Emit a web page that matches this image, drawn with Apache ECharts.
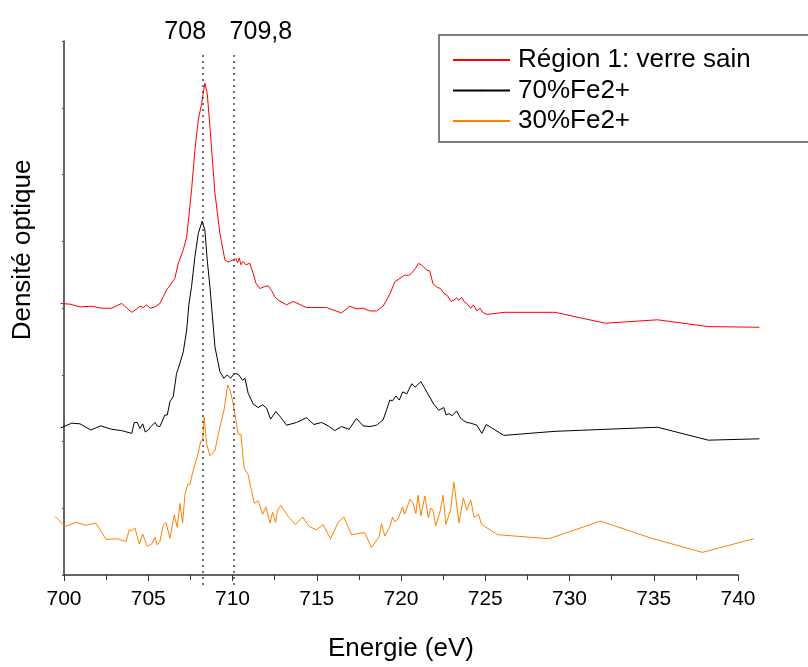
<!DOCTYPE html>
<html>
<head>
<meta charset="utf-8">
<script src="https://cdn.jsdelivr.net/npm/echarts@6/dist/echarts.min.js"></script>
<style>
html,body{margin:0;padding:0;background:#fff;}
#c{width:808px;height:667px;}
</style>
</head>
<body>
<div id="c"></div>
<script>
// Energy (eV) / optical density (arbitrary, stacked offset)
var redE = [699.80,700.36,700.95,701.64,702.24,702.83,703.42,704.02,704.21,704.51,704.70,704.90,705.10,705.40,705.69,705.89,706.09,706.39,706.58,706.78,707.08,707.28,707.47,707.57,707.77,707.97,708.17,708.36,708.50,708.66,708.96,709.25,709.55,709.74,710.04,710.20,710.30,710.40,710.50,710.63,710.79,711.03,711.23,711.39,711.62,711.92,712.12,712.32,712.51,712.71,713.21,713.60,714.39,715.58,716.47,716.96,717.36,717.75,718.15,718.55,718.94,719.34,719.64,719.94,720.24,720.44,720.64,720.84,721.04,721.24,721.54,721.70,721.90,722.14,722.34,722.54,722.74,722.98,723.14,723.30,723.44,723.60,723.74,723.94,724.14,724.30,724.50,724.70,724.84,725.10,726.14,729.14,732.13,735.23,738.23,741.27];
var redV = [4.14,4.13,4.09,4.10,4.07,4.07,4.14,4.01,4.04,4.10,4.08,4.12,4.07,4.09,4.14,4.24,4.34,4.44,4.51,4.73,4.93,5.12,5.56,5.81,6.40,6.84,7.08,7.38,7.23,6.74,5.76,5.17,4.78,4.75,4.78,4.80,4.74,4.81,4.71,4.76,4.71,4.73,4.58,4.44,4.36,4.39,4.40,4.33,4.24,4.19,4.12,4.17,4.08,4.08,4.00,4.10,4.06,4.07,4.03,4.03,4.10,4.28,4.46,4.51,4.56,4.55,4.59,4.65,4.73,4.70,4.63,4.62,4.43,4.38,4.36,4.29,4.26,4.17,4.19,4.22,4.19,4.23,4.17,4.13,4.07,4.12,4.03,4.07,4.01,3.98,4.01,4.01,3.85,3.90,3.80,3.79];

var blackE = [699.80,700.46,700.95,701.58,702.19,702.83,703.42,704.02,704.17,704.35,704.51,704.67,704.82,705.00,705.16,705.40,705.53,705.69,705.99,706.13,706.29,706.48,706.68,706.88,707.08,707.28,707.41,707.57,707.77,707.97,708.20,708.36,708.50,708.66,708.76,708.96,709.25,709.49,709.69,709.89,710.10,710.34,710.60,710.74,710.93,711.23,711.52,711.79,712.02,712.26,712.57,712.85,713.21,713.80,714.39,714.83,715.28,715.68,716.07,716.47,716.92,717.36,717.75,718.15,718.55,718.94,719.04,719.34,719.50,719.70,719.90,720.10,720.34,720.64,720.84,721.18,721.44,721.94,722.24,722.54,722.68,722.84,723.04,723.30,723.54,723.70,723.90,724.14,724.50,724.80,725.06,726.10,729.14,735.23,738.23,741.27];
var blackV = [2.31,2.38,2.37,2.28,2.34,2.29,2.27,2.23,2.39,2.39,2.30,2.37,2.25,2.28,2.33,2.39,2.34,2.33,2.50,2.50,2.70,2.77,3.11,3.26,3.43,3.75,4.12,4.39,4.83,5.17,5.35,5.22,4.78,4.39,4.09,3.50,3.14,3.04,3.09,3.04,3.11,3.10,3.01,3.04,2.82,2.66,2.61,2.65,2.60,2.44,2.55,2.47,2.35,2.39,2.46,2.36,2.39,2.34,2.27,2.33,2.29,2.45,2.34,2.33,2.35,2.43,2.50,2.72,2.71,2.78,2.72,2.84,2.81,2.96,2.91,2.99,2.88,2.66,2.57,2.61,2.50,2.52,2.49,2.56,2.45,2.42,2.39,2.38,2.35,2.23,2.36,2.20,2.26,2.32,2.13,2.15];

var orangeE = [699.47,700.06,700.71,701.30,701.90,702.49,703.13,703.68,703.87,704.03,704.21,704.47,704.67,704.94,705.20,705.40,705.53,705.69,705.89,706.05,706.29,706.54,706.72,706.88,707.04,707.18,707.34,707.47,707.67,707.97,708.11,708.23,708.32,708.46,708.66,708.96,709.15,709.51,709.71,709.85,710.04,710.34,710.50,710.69,710.93,711.29,711.52,711.79,711.98,712.22,712.38,712.56,712.67,712.87,713.30,713.74,714.16,714.55,714.99,715.38,715.82,716.27,716.61,717.06,717.85,718.25,718.70,718.84,719.04,719.34,719.50,719.63,719.83,720.09,720.22,720.53,720.72,720.88,721.01,721.18,721.42,721.62,721.76,721.90,722.06,722.30,722.50,722.66,722.94,723.14,723.44,723.70,723.90,724.14,724.34,724.60,724.78,725.74,728.78,731.84,734.83,737.89,740.93];
var orangeV = [1.01,0.86,0.92,0.88,0.91,0.67,0.68,0.64,0.81,0.80,0.84,0.60,0.75,0.57,0.60,0.70,0.59,0.64,0.88,0.92,0.69,1.03,0.85,1.20,0.91,1.33,1.48,1.48,1.69,1.94,2.11,2.12,2.47,2.08,1.90,1.98,2.21,2.59,2.94,2.87,2.67,2.22,2.21,1.72,1.62,1.20,1.24,1.04,1.15,0.91,1.07,0.92,1.10,1.17,1.01,0.89,1.00,0.86,0.81,0.89,0.68,0.92,1.00,0.74,0.77,0.55,0.71,0.90,0.72,0.86,1.00,0.93,0.97,1.15,1.04,1.26,1.20,1.05,1.32,1.02,1.31,0.99,1.13,1.10,0.87,1.06,1.32,0.89,1.10,1.51,0.91,1.28,1.10,1.25,0.99,1.04,0.89,0.74,0.68,0.94,0.69,0.48,0.68];

var seriesNames = ['Région 1: verre sain', '70%Fe2+', '30%Fe2+'];
var seriesColors = ['#ff0000', '#000000', '#ff8000'];
var xTicks = [700, 705, 710, 715, 720, 725, 730, 735, 740];
var markEnergies = [708.26, 710.08];
var markLabels = ['708', '709,8'];
var markTop = 7.84;

function pairs(e, v) { return e.map(function (x, i) { return [x, v[i]]; }); }

var FONT = 'Arial, "Liberation Sans", sans-serif';

// axis grid: 700..740 between these edges; data grid: 699..742, same scale
var AX_L = 64, AX_R = 70, TOP = 41, BOTTOM = 82;
var W = 808;
var pxPerEv = (W - AX_L - AX_R) / 40;
var DATA_MIN = 699, DATA_MAX = 742;
var dataLeft = AX_L - (700 - DATA_MIN) * pxPerEv;
var dataRight = AX_R - (DATA_MAX - 740) * pxPerEv;

var chart = echarts.init(document.getElementById('c'), null, {renderer: 'canvas'});

var marks = markEnergies.map(function (e, i) {
  return [
    {coord: [e, 0], label: {formatter: markLabels[i], offset: i === 0 ? [-18, 1] : [27, 1]}},
    {coord: [e, markTop]}
  ];
});

var series = [pairs(redE, redV), pairs(blackE, blackV), pairs(orangeE, orangeV)].map(function (d, i) {
  var s = {
    name: seriesNames[i],
    type: 'line',
    xAxisIndex: 1,
    yAxisIndex: 1,
    data: d,
    symbol: 'none',
    clip: false,
    lineStyle: {color: seriesColors[i], width: 1},
    itemStyle: {color: seriesColors[i]},
    z: 3 - i
  };
  if (i === 0) {
    s.markLine = {
      silent: true,
      symbol: ['none', 'none'],
      lineStyle: {color: '#444', type: [2, 4], width: 1.5},
      label: {show: true, position: 'end', fontSize: 25, color: '#000', fontFamily: FONT, distance: 8},
      data: marks
    };
  }
  return s;
});

chart.setOption({
  animation: false,
  backgroundColor: '#fff',
  grid: [
    {left: AX_L, right: AX_R, top: TOP, bottom: BOTTOM},
    {left: dataLeft, right: dataRight, top: TOP, bottom: BOTTOM}
  ],
  legend: {
    orient: 'vertical',
    left: 439,
    top: 35,
    data: seriesNames,
    itemWidth: 57,
    itemHeight: 2,
    itemGap: 4.5,
    padding: [12, 60, 8, 13],
    backgroundColor: '#fff',
    borderColor: '#555',
    borderWidth: 1.5,
    borderRadius: 0,
    textStyle: {fontSize: 26, fontFamily: FONT, color: '#000', lineHeight: 26, padding: [0, 0, 0, 3]}
  },
  xAxis: [{
    type: 'value',
    gridIndex: 0,
    min: 700,
    max: 740,
    interval: 5,
    name: 'Energie (eV)',
    nameLocation: 'middle',
    nameGap: 61,
    nameTextStyle: {fontSize: 26, fontFamily: FONT, color: '#000'},
    axisLine: {lineStyle: {color: '#333', width: 1.5}},
    axisTick: {length: 6, lineStyle: {color: '#333', width: 1}},
    minorTick: {show: true, splitNumber: 2, length: 5, lineStyle: {color: '#333', width: 1}},
    axisLabel: {fontSize: 21, fontFamily: FONT, color: '#000', margin: 14,
      formatter: function (v) { return xTicks.indexOf(v) >= 0 ? String(v) : ''; }},
    splitLine: {show: false}
  }, {
    type: 'value',
    gridIndex: 1,
    min: DATA_MIN,
    max: DATA_MAX,
    show: false,
    splitLine: {show: false}
  }],
  yAxis: [{
    type: 'value',
    gridIndex: 0,
    min: 0,
    max: 8,
    interval: 1,
    name: 'Densité optique',
    nameLocation: 'middle',
    nameGap: 28,
    nameTextStyle: {fontSize: 26, fontFamily: FONT, color: '#000', padding: [0, 0, 0, 116]},
    axisLine: {show: true, lineStyle: {color: '#333', width: 1.5}},
    axisTick: {show: true, length: 2, lineStyle: {color: '#555', width: 1}},
    axisLabel: {show: false},
    splitLine: {show: false}
  }, {
    type: 'value',
    gridIndex: 1,
    min: 0,
    max: 8,
    show: false,
    splitLine: {show: false}
  }],
  series: series
});
</script>
</body>
</html>
